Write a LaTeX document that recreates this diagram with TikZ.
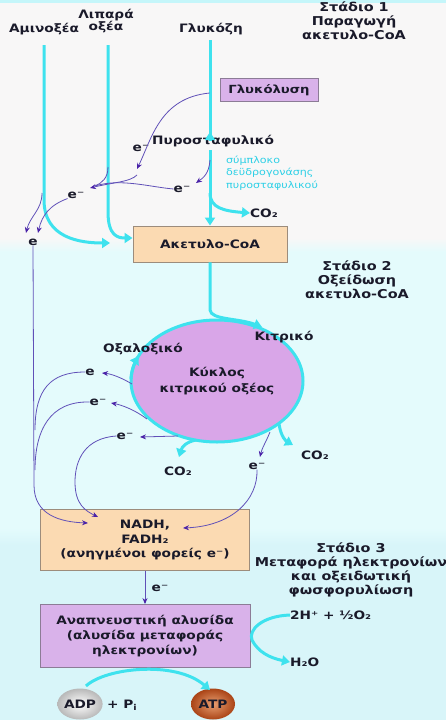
\documentclass[tikz,border=0pt]{standalone}
\usepackage{fontspec}
\setmainfont{DejaVu Sans}[FakeStretch=1.18]
\usetikzlibrary{arrows.meta,shapes.geometric}
\definecolor{cy}{HTML}{3EE2EE}
\definecolor{cytext}{HTML}{2ED0E6}
\definecolor{pu}{HTML}{6050B8}
\definecolor{puhead}{HTML}{4A22A8}
\definecolor{txt}{HTML}{1A1A2A}
\definecolor{peach}{HTML}{FBDAB2}
\definecolor{peachborder}{HTML}{9C8C7C}
\definecolor{lilac}{HTML}{D9B2EA}
\definecolor{lilacborder}{HTML}{8C7C96}
\definecolor{cycfill}{HTML}{D9A6E8}
\definecolor{bgtop}{HTML}{F8F7F7}
\definecolor{bgmid}{HTML}{E4FBFC}
\definecolor{bgbot}{HTML}{D8F5F9}
\definecolor{atpc}{HTML}{C8501A}
\begin{document}
\begin{tikzpicture}[x=1pt,y=-1pt,
  lbl/.style={font=\bfseries\fontsize{11.6}{12.5}\selectfont, text=txt, align=center, inner sep=0pt},
  stage/.style={font=\bfseries\fontsize{12.2}{14.2}\selectfont, text=txt, align=center, inner sep=0pt},
  cyl/.style={draw=cy, line width=3pt},
  cyarrow/.style={draw=cy, line width=3pt, -{Triangle[width=10pt,length=8pt]}},
  pline/.style={draw=pu, line width=0.8pt},
  parr/.style={draw=pu, line width=0.8pt, -{Stealth[length=6pt,width=5pt,color=puhead]}},
  pbox/.style={draw=peachborder, fill=peach, line width=0.9pt, font=\bfseries\fontsize{11.6}{14.6}\selectfont, text=txt, align=center},
  lbox/.style={draw=lilacborder, fill=lilac, line width=0.9pt, font=\bfseries\fontsize{11.6}{14.6}\selectfont, text=txt, align=center},
]
\useasboundingbox (0,0) rectangle (446,720);
% background
\fill[bgtop] (0,0) rectangle (446,240);
\shade[top color=bgtop, bottom color=bgmid] (0,238) rectangle (446,252);
\fill[bgmid] (0,252) rectangle (446,530);
\shade[top color=bgmid, bottom color=bgbot] (0,528) rectangle (446,545);
\fill[bgbot] (0,545) rectangle (446,720);
\fill[cy!30] (0,0) rectangle (446,3);

% top labels
\node[lbl] (amino) at (44,29) {Αμινοξέα};
\node[lbl] (lipid) at (106,21) {Λιπαρά\\οξέα};
\node[lbl] (gluc) at (211,29) {Γλυκόζη};
\node[stage] (st1) at (354,21) {Στάδιο 1\\Παραγωγή\\ακετυλο-CoA};

% boxes
\node[lbox, minimum width=98pt, minimum height=23pt, font=\bfseries\fontsize{11.2}{11}\selectfont] (glyc) at (269,90) {Γλυκόλυση};
\node[pbox, minimum width=154pt, minimum height=36pt] (acoa) at (210,244) {Ακετυλο-CoA};
\node[pbox, minimum width=209pt, minimum height=61pt] (nadh) at (145,540) {NADH,\\FADH₂\\(ανηγμένοι φορείς e⁻)};
\node[lbox, minimum width=210pt, minimum height=63pt] (resp) at (145,636) {Αναπνευστική αλυσίδα\\(αλυσίδα μεταφοράς\\ηλεκτρονίων)};

% pyruvate
\node[lbl, anchor=west] (pyr) at (152,141) {Πυροσταφυλικό};
\node[lbl] (e1) at (141,148) {e⁻};
\node[font=\fontsize{9.4}{12.2}\selectfont, text=cytext, align=left, anchor=north west, inner sep=0pt] (pdh) at (226,156) {σύμπλοκο\\δεϋδρογονάσης\\πυροσταφυλικού};
\node[lbl, anchor=west] (co2a) at (250,213) {CO₂};
\node[lbl] (e2) at (182,189) {e⁻};
\node[lbl] (e3) at (76,195) {e⁻};
\node[lbl] (e4) at (33,242) {e};

% cyan main lines stage 1
\coordinate (gtop) at (210,40);
\coordinate (gbr) at (210,193);
\draw[cyarrow] (gtop) -- (pyr.west -| gtop) ++(0,-9) coordinate (pyrin);
\draw[cyarrow] (210,150) -- (acoa.north -| gtop);
\draw[cyarrow] (gbr) .. controls (210,208) and (224,211) .. (co2a.west);
\coordinate (atop) at (44,45);
\draw[cyarrow] (atop) -- (44,200) .. controls (44,238) and (80,243) .. (110,243);
\coordinate (ltop) at (108,45);
\draw[cyarrow] (ltop) -- (108,212) .. controls (108,236) and (118,238) .. (acoa.west |- 0,238);

% purple arrows stage 1
\draw[parr] (glyc.west |- 0,93) ++(-10,0) .. controls (160,98) and (152,138) .. (137,169);
\draw[parr] (210,160) .. controls (209,174) and (203,178) .. (196,183);
\draw[pline] (e2.west) .. controls (150,187) and (120,178) .. (95,186);
\draw[pline] (108,167) .. controls (108,178) and (102,183) .. (95,186);
\draw[parr] (137,175) .. controls (130,182) and (115,182) .. (90,188);
\draw[parr] (e3.south west) .. controls (50,205) and (42,215) .. (38,233);
\draw[parr] (42,193) .. controls (42,210) and (30,216) .. (26,233);

% stage 2
\node[stage] (st2) at (357,280) {Στάδιο 2\\Οξείδωση\\ακετυλο-CoA};
\node[ellipse, minimum width=172pt, minimum height=122pt, inner sep=0pt, draw=cy, line width=3pt, fill=cycfill, lbl, font=\bfseries\fontsize{11.6}{16}\selectfont] (cyc) at (217,381) {Κύκλος\\κιτρικού οξέος};
\draw[cyarrow] (acoa.south) -- (210,310) .. controls (211,320) and (238,318) .. (262,327);
\draw[cyarrow] plot[domain=182:204, samples=20] ({217+86*cos(\x)},{381+61*sin(\x)});
\node[lbl] (cit) at (284,337) {Κιτρικό};
\node[lbl] (oxa) at (143,349) {Οξαλοξικό};

% e labels around cycle
\node[lbl] (ea) at (90,372) {e};
\node[lbl] (eb) at (98,402) {e⁻};
\node[lbl] (ec) at (125,436) {e⁻};
\node[lbl] (ed) at (257,466) {e⁻};
\node[lbl] (co2b) at (178,471) {CO₂};
\node[lbl] (co2c) at (315,455) {CO₂};

\draw[parr] (132,384) .. controls (122,378) and (112,374) .. (102,373);
\draw[parr] (147,419) .. controls (135,410) and (122,405) .. (111,403);
\draw[parr] (178,436) -- (140,437);
\draw[parr] (270,432) .. controls (266,442) and (262,448) .. (260,457);
\draw[cyarrow] (196,440) .. controls (186,442) and (182,447) .. (179,457);
\draw[cyarrow] (279,424) .. controls (281,437) and (286,441) .. (293,445);

% purple collectors to NADH
\draw[pline] (ea.west) .. controls (50,372) and (35,390) .. (35,430);
\draw[pline] (eb.west) .. controls (50,401) and (35,430) .. (35,470);
\draw[parr] (e4.south) -- (34,485) .. controls (34,515) and (60,522) .. (88,523);
\draw[parr] (ec.west) .. controls (85,438) and (75,460) .. (75,482) .. controls (75,505) and (86,511) .. (98,517);
\draw[parr] (ed.south) .. controls (258,500) and (232,526) .. (183,528);

% stage 3
\node[stage] (st3) at (351,570) {Στάδιο 3\\Μεταφορά ηλεκτρονίων\\και οξειδωτική\\φωσφορυλίωση};
\draw[parr] (nadh.south) -- (resp.north);
\node[lbl] (e5) at (160,588) {e⁻};
\node[lbl, anchor=west] (ox) at (290,615) {2H⁺ + ½O₂};
\node[lbl, anchor=west] (h2o) at (290,662) {H₂O};
\draw[cyarrow] (ox.west) .. controls (262,616) and (248,630) .. (252,640) .. controls (258,652) and (270,658) .. (h2o.west);

% ADP / ATP
\node[ellipse, minimum width=44pt, minimum height=31pt, inner sep=0pt, inner color=white, outer color=gray!55, lbl] (adp) at (80,704) {ADP};
\node[lbl, anchor=west] (pi) at (107,705) {+ P\textsubscript{i}};
\node[ellipse, minimum width=44pt, minimum height=31pt, inner sep=0pt, inner color=atpc!70!orange!60, outer color=atpc!85!black, lbl] (atp) at (213,704) {ATP};
\draw[cyarrow] (86,686) .. controls (105,668) and (175,660) .. (210,690);
\end{tikzpicture}
\end{document}
